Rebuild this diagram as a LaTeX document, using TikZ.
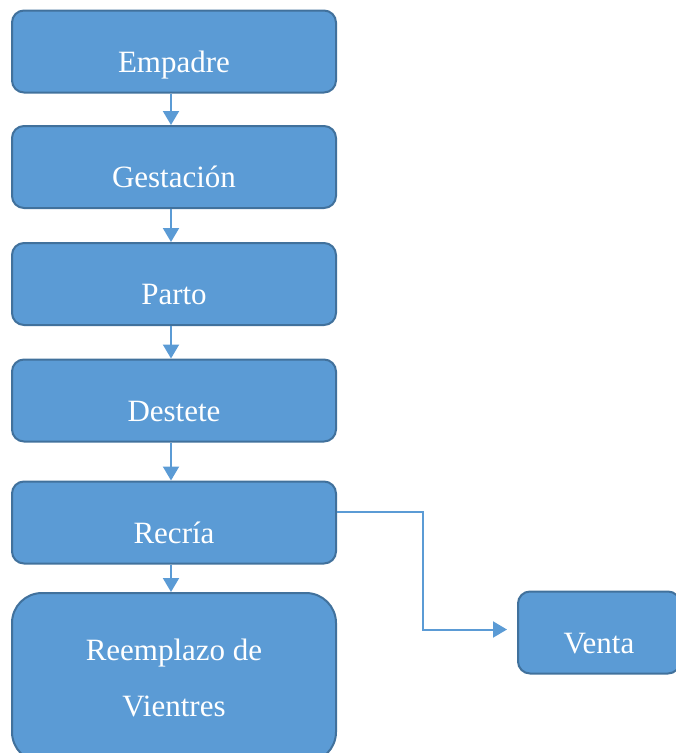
\documentclass[tikz,border=0pt]{standalone}
\usepackage{fontspec}
\setmainfont{Liberation Serif}
\usetikzlibrary{arrows.meta}
\definecolor{boxfill}{HTML}{5B9BD5}
\definecolor{boxline}{HTML}{41719C}
\definecolor{connline}{HTML}{5B9BD5}
\tikzset{
  stagebox/.style={draw=boxline, line width=2pt, fill=boxfill, rounded corners=12pt,
    minimum width=324pt, minimum height=82pt, inner sep=0pt, text=white,
    font=\fontsize{31}{36}\selectfont, text height=41pt, text depth=0pt},
  bigbox/.style={draw=boxline, line width=2pt, fill=boxfill, rounded corners=30pt,
    minimum width=324pt, minimum height=169pt, inner sep=0pt, text=white,
    font=\fontsize{31}{56}\selectfont, align=center},
  conn/.style={draw=connline, line width=2pt, -{Triangle[width=16pt,length=14pt]}}
}
\begin{document}
\begin{tikzpicture}[x=1pt,y=-1pt]
\useasboundingbox (0,0) rectangle (676,753);
\clip (0,0) rectangle (676,753);
\node[stagebox] (empadre) at (174,51.5) {Empadre};
\node[stagebox] (gestacion) at (174,167) {Gestación};
\node[stagebox] (parto) at (174,284) {Parto};
\node[stagebox] (destete) at (174,400.5) {Destete};
\node[stagebox] (recria) at (174,522.5) {Recría};
\node[bigbox] (reemplazo) at (174,677.5) {Reemplazo de\\Vientres};
\node[stagebox, minimum width=162pt] (venta) at (599,632.5) {Venta};
\coordinate (turn) at (423,629.5);
\draw[conn] ([xshift=-3pt]empadre.south) -- ([xshift=-3pt]gestacion.north);
\draw[conn] ([xshift=-3pt]gestacion.south) -- ([xshift=-3pt]parto.north);
\draw[conn] ([xshift=-3pt]parto.south) -- ([xshift=-3pt]destete.north);
\draw[conn] ([xshift=-3pt]destete.south) -- ([xshift=-3pt]recria.north);
\draw[conn] ([xshift=-3pt]recria.south) -- ([xshift=-3pt]reemplazo.north);
\draw[conn, shorten >=10pt] ([yshift=11pt]recria.east) -| (turn) -- ([yshift=3pt]venta.west);
\end{tikzpicture}
\end{document}
